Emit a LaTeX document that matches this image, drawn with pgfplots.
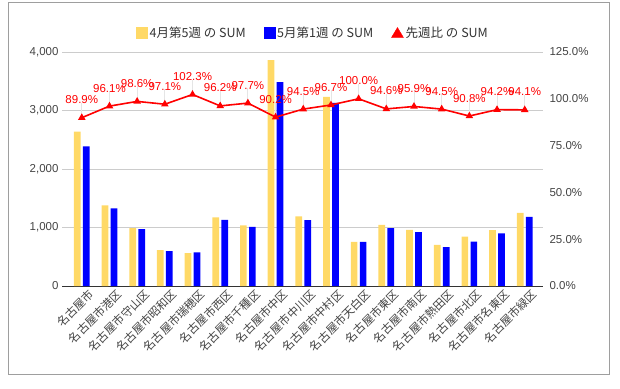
\documentclass[border=0pt]{standalone}
\usepackage{pgfplots}
\pgfplotsset{compat=1.18}
\usepackage{fontspec}
\setmainfont{Liberation Sans}
\newfontfamily\jp{Noto Sans CJK JP}
\definecolor{cyel}{HTML}{FFD966}
\definecolor{cblue}{HTML}{0000FF}
\definecolor{cred}{HTML}{FF0000}
\definecolor{cgrid}{HTML}{CCCCCC}
\definecolor{ctick}{HTML}{444444}
\definecolor{cborder}{HTML}{9E9E9E}
\newcommand{\fs}{\fontsize{11.5}{13}\selectfont}
\begin{document}
\begin{tikzpicture}[x=1pt,y=1pt]
\path[use as bounding box] (0,0) rectangle (620,388);
\draw[cborder, line width=1pt] (8,14) rectangle (609,385);
\begin{axis}[
  at={(62pt,102pt)}, anchor=south west, scale only axis,
  width=481pt, height=234pt,
  xmin=-0.715, xmax=16.66, ymin=0, ymax=4000,
  axis x line*=bottom, axis y line*=left,
  y axis line style={draw=none},
  x axis line style={draw=black!80, line width=1pt},
  major tick length=0pt,
  ytick={0,1000,2000,3000,4000},
  ymajorgrids, grid style={cgrid, line width=0.8pt},
  scaled y ticks=false,
  /pgf/number format/assume math mode=true,
  /pgf/number format/1000 sep={,},
  yticklabel style={font=\fs, text=ctick},
  xtick={0,...,16},
  xticklabels={名古屋市,名古屋市港区,名古屋市守山区,名古屋市昭和区,名古屋市瑞穂区,名古屋市西区,名古屋市千種区,名古屋市中区,名古屋市中川区,名古屋市中村区,名古屋市天白区,名古屋市東区,名古屋市南区,名古屋市熱田区,名古屋市北区,名古屋市名東区,名古屋市緑区},
  xticklabel style={font=\jp\fs, text=ctick, rotate=45, anchor=north east, inner sep=1pt, xshift=4pt, yshift=-5pt},
  ybar=2.3pt, bar width=6.7pt,
]
\addplot[fill=cyel, draw=none] coordinates {(0,2640) (1,1380) (2,988) (3,613) (4,562) (5,1175) (6,1035) (7,3863) (8,1192) (9,3234) (10,755) (11,1046) (12,960) (13,704) (14,842) (15,955) (16,1252)};
\addplot[fill=cblue, draw=none] coordinates {(0,2385) (1,1329) (2,971) (3,596) (4,575) (5,1130) (6,1011) (7,3487) (8,1124) (9,3132) (10,755) (11,990) (12,921) (13,666) (14,760) (15,898) (16,1180)};
\end{axis}
\begin{axis}[
  at={(62pt,102pt)}, anchor=south west, scale only axis,
  width=481pt, height=234pt,
  xmin=-0.715, xmax=16.66, ymin=0, ymax=125,
  axis x line=none, axis y line*=right,
  y axis line style={draw=none},
  major tick length=0pt,
  ytick={0,25,50,75,100,125},
  yticklabel={\pgfmathprintnumber[fixed,fixed zerofill,precision=1,assume math mode=true]{\tick}\%},
  yticklabel style={font=\fs, text=ctick, xshift=3pt},
  clip=false,
  legend columns=3,
  legend style={at={(0.522,1.081)}, anchor=center, draw=none, fill=none, font=\jp\fontsize{12.5}{14}\selectfont, text=black!80,
    /tikz/every even column/.append style={column sep=16pt}},
  legend cell align=left,
]
\addlegendimage{legend image code/.code={\fill[cyel] (0pt,-5.5pt) rectangle (11pt,5.5pt);}}
\addlegendentry{4月第5週 の SUM}
\addlegendimage{legend image code/.code={\fill[cblue] (0pt,-5.5pt) rectangle (11pt,5.5pt);}}
\addlegendentry{5月第1週 の SUM}
\addlegendimage{legend image code/.code={\fill[cred] (0pt,-4.5pt) -- (12pt,-4.5pt) -- (6pt,5.5pt) -- cycle;}}
\addlegendentry{先週比 の SUM}
\addplot[draw=none, mark=none, forget plot,
  error bars/.cd, y dir=plus, y fixed=8, error mark=none,
  error bar style={draw=black!10, line width=0.8pt}]
  coordinates {(0,89.9) (1,96.1) (2,98.6) (3,97.1) (4,102.3) (5,96.2) (6,97.7) (7,90.2) (8,94.5) (9,96.7) (10,100.0) (11,94.6) (12,95.9) (13,94.5) (14,90.8) (15,94.2) (16,94.1)};
\addplot[cred, line width=1.6pt, mark=triangle*, mark size=2.8pt, forget plot,
  point meta=y,
  nodes near coords={\pgfmathprintnumber[fixed,fixed zerofill,precision=1,assume math mode=true]{\pgfplotspointmeta}\%},
  every node near coord/.append style={font=\fs, text=cred, anchor=south, yshift=11pt, inner sep=2pt}]
  coordinates {(0,89.9) (1,96.1) (2,98.6) (3,97.1) (4,102.3) (5,96.2) (6,97.7) (7,90.2) (8,94.5) (9,96.7) (10,100.0) (11,94.6) (12,95.9) (13,94.5) (14,90.8) (15,94.2) (16,94.1)};
\end{axis}
\end{tikzpicture}
\end{document}
